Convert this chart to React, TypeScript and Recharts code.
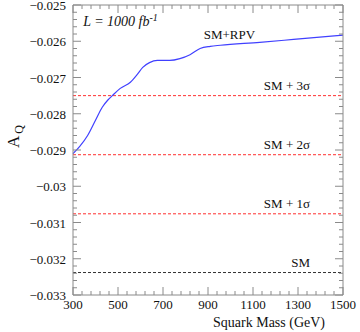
import { Line, LineChart, ReferenceDot, ReferenceLine, XAxis, YAxis } from "recharts";

const massGeV = [300, 330, 365, 400, 430, 455, 475, 510, 555, 585, 610, 640, 675, 730, 775, 820, 865, 910, 955, 1130, 1280, 1500];
const aqRpv = [
  -0.0291, -0.0289, -0.0286, -0.02818, -0.02782, -0.02762, -0.0275, -0.0273, -0.02713, -0.02692, -0.02672,
  -0.02659, -0.02653, -0.02653, -0.02648, -0.02637, -0.0262, -0.02614, -0.02611, -0.02603, -0.02595, -0.02583,
];

const smLevels = [
  { name: "SM  + 3σ", value: -0.0275, color: "#ff3030" },
  { name: "SM  + 2σ", value: -0.02913, color: "#ff3030" },
  { name: "SM  + 1σ", value: -0.03076, color: "#ff3030" },
  { name: "SM", value: -0.03238, color: "#333333" },
];

const xMajor = [300, 500, 700, 900, 1100, 1300, 1500];
const yMajor = [-0.033, -0.032, -0.031, -0.03, -0.029, -0.028, -0.027, -0.026, -0.025];
const yLabels = ["−0.033", "−0.032", "−0.031", "−0.03", "−0.029", "−0.028", "−0.027", "−0.026", "−0.025"];

const data = massGeV.map((m, i) => ({ mass: m, aq: aqRpv[i] }));

// minor ticks: 5 divisions between majors
const minors = (major: number[]) => {
  const out: number[] = [];
  for (let i = 0; i < major.length - 1; i++) {
    const step = (major[i + 1] - major[i]) / 5;
    for (let k = 0; k < 5; k++) out.push(+(major[i] + k * step).toFixed(6));
  }
  out.push(major[major.length - 1]);
  return out;
};
const xTicks = minors(xMajor);
const yTicks = minors(yMajor);

const axisColor = "#8a8a8a";
const font = "Liberation Serif";

const isMajor = (list: number[], v: number) => list.some((m) => Math.abs(m - v) < 1e-7);

function BottomTick({ x, y, payload }: any) {
  const major = isMajor(xMajor, payload.value);
  return (
    <g>
      <line x1={x} x2={x} y1={y} y2={y - (major ? 8 : 4)} stroke={axisColor} />
      {major && (
        <text x={x} y={y + 14} textAnchor="middle" fontSize={13} fontFamily={font} fill="#111">
          {payload.value}
        </text>
      )}
    </g>
  );
}

function TopTick({ x, y, payload }: any) {
  const major = isMajor(xMajor, payload.value);
  return <line x1={x} x2={x} y1={y} y2={y + (major ? 8 : 4)} stroke={axisColor} />;
}

function LeftTick({ x, y, payload }: any) {
  const idx = yMajor.findIndex((m) => Math.abs(m - payload.value) < 1e-7);
  const major = idx >= 0;
  return (
    <g>
      <line x1={x} x2={x + (major ? 8 : 4)} y1={y} y2={y} stroke={axisColor} />
      {major && (
        <text x={x - 7} y={y + 5} textAnchor="end" fontSize={13} fontFamily={font} fill="#111">
          {yLabels[idx]}
        </text>
      )}
    </g>
  );
}

function RightTick({ x, y, payload }: any) {
  const major = isMajor(yMajor, payload.value);
  return <line x1={x} x2={x - (major ? 8 : 4)} y1={y} y2={y} stroke={axisColor} />;
}

export default function App() {
  return (
    <div style={{ position: "absolute", left: 0, top: 0, width: 360, height: 332, background: "#fff" }}>
      <LineChart width={360} height={332} data={data} margin={{ top: 4, right: 16, bottom: 17, left: 13 }}>
        <XAxis
          xAxisId="b"
          dataKey="mass"
          type="number"
          domain={[300, 1500]}
          ticks={xTicks}
          interval={0}
          height={20}
          tickSize={0}
          tickMargin={0}
          tickLine={false}
          stroke={axisColor}
          tick={<BottomTick />}
        />
        <XAxis
          xAxisId="t"
          orientation="top"
          dataKey="mass"
          type="number"
          domain={[300, 1500]}
          ticks={xTicks}
          interval={0}
          height={1}
          tickSize={0}
          tickMargin={0}
          tickLine={false}
          stroke={axisColor}
          tick={<TopTick />}
        />
        <YAxis
          yAxisId="l"
          type="number"
          domain={[-0.033, -0.025]}
          allowDataOverflow
          ticks={yTicks}
          interval={0}
          width={60}
          tickSize={0}
          tickMargin={0}
          tickLine={false}
          stroke={axisColor}
          tick={<LeftTick />}
        />
        <YAxis
          yAxisId="r"
          orientation="right"
          type="number"
          domain={[-0.033, -0.025]}
          allowDataOverflow
          ticks={yTicks}
          interval={0}
          width={1}
          tickSize={0}
          tickMargin={0}
          tickLine={false}
          stroke={axisColor}
          tick={<RightTick />}
        />
        {smLevels.map((s) => (
          <ReferenceLine
            key={s.name}
            xAxisId="b"
            yAxisId="l"
            y={s.value}
            stroke={s.color}
            strokeDasharray="3 2"
            strokeWidth={1}
            label={(p: any) => (
              <text
                x={p.viewBox.x + p.viewBox.width - 33}
                y={p.viewBox.y - 6}
                textAnchor="end"
                fontSize={13}
                fontFamily={font}
                fill="#111"
              >
                {s.name}
              </text>
            )}
          />
        ))}
        <Line
          xAxisId="b"
          yAxisId="l"
          dataKey="aq"
          type="monotone"
          stroke="#4040ff"
          strokeWidth={1.2}
          dot={false}
          isAnimationActive={false}
        />
        <ReferenceDot
          xAxisId="b"
          yAxisId="l"
          x={995}
          y={-0.02594}
          r={0}
          stroke="none"
          label={(p: any) => (
            <text x={p.viewBox.x} y={p.viewBox.y} textAnchor="middle" fontSize={13} fontFamily={font} fill="#111">
              SM+RPV
            </text>
          )}
        />
        <ReferenceDot
          xAxisId="b"
          yAxisId="l"
          x={345}
          y={-0.02559}
          r={0}
          stroke="none"
          label={(p: any) => (
            <text x={p.viewBox.x} y={p.viewBox.y} fontSize={14} fontFamily={font} fontStyle="italic" fill="#111">
              L = 1000 fb
              <tspan dy={-5} fontSize={10}>
                -1
              </tspan>
            </text>
          )}
        />
        <text x={325} y={327} textAnchor="end" fontSize={14} fontFamily={font} fill="#111">
          Squark Mass (GeV)
        </text>
        <text transform="translate(19,148) rotate(-90)" fontSize={17} fontFamily={font} fill="#111">
          A
          <tspan dy={4} dx={2} fontSize={12}>
            Q
          </tspan>
        </text>
      </LineChart>
    </div>
  );
}
